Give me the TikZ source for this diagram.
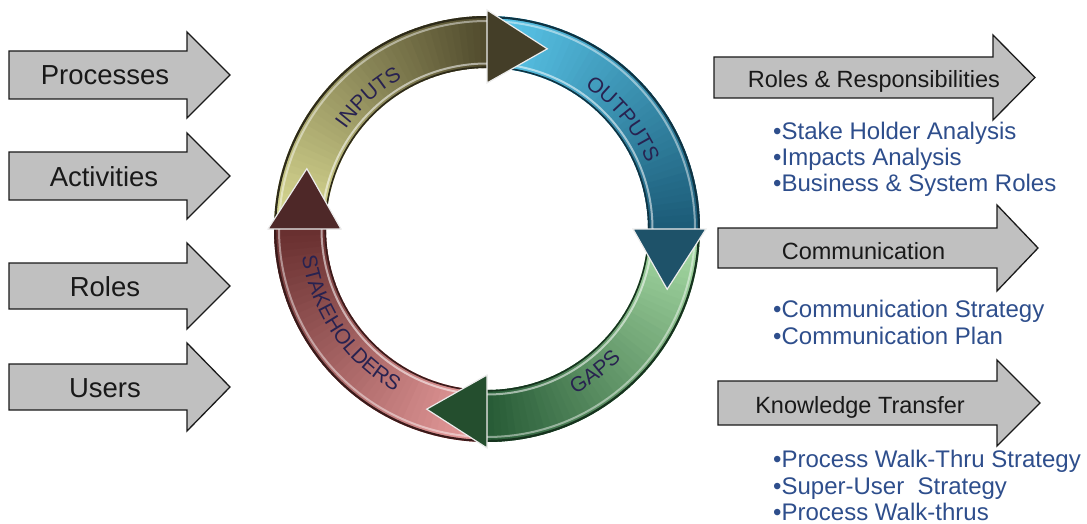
\documentclass[tikz,border=0pt]{standalone}
\usepackage{fontspec}
\setmainfont{Liberation Sans}
\usetikzlibrary{decorations.text}

\definecolor{arrowgray}{RGB}{192,192,192}
\definecolor{arrowline}{RGB}{26,26,26}
\definecolor{bulletblue}{RGB}{46,78,140}
\definecolor{arctext}{RGB}{40,34,80}
\definecolor{inlight}{RGB}{220,220,148}
\definecolor{indark}{RGB}{82,76,46}
\definecolor{inhead}{RGB}{68,62,40}
\definecolor{outlight}{RGB}{92,202,238}
\definecolor{outdark}{RGB}{28,92,120}
\definecolor{outhead}{RGB}{30,82,105}
\definecolor{gaplight}{RGB}{170,222,167}
\definecolor{gapdark}{RGB}{40,92,55}
\definecolor{gaphead}{RGB}{36,78,46}
\definecolor{stklight}{RGB}{234,158,158}
\definecolor{stkdark}{RGB}{105,48,48}
\definecolor{stkhead}{RGB}{78,40,40}

\def\Rin{161}
\def\Rout{213}

% body of a curved arrow: annular band shaded from light (start) to dark (head)
\newcommand{\ringbody}[4]{%
  \foreach \i in {0,...,44}{
    \pgfmathsetmacro{\angA}{#1+(#2-#1)*\i/45}
    \pgfmathsetmacro{\angB}{#1+(#2-#1)*(\i+1.4)/45}
    \pgfmathtruncatemacro{\pmix}{100-\i*100/44}
    \fill[#3!\pmix!#4] (\angA:\Rin) arc[start angle=\angA, end angle=\angB, radius=\Rin]
      -- (\angB:\Rout) arc[start angle=\angB, end angle=\angA, radius=\Rout] -- cycle;
  }
}
% bevelled rims of a band
\newcommand{\ringedges}[3]{%
  \draw[line width=2.2, draw=#3!55!black] (#1:{\Rout-1.1}) arc[start angle=#1, end angle=#2, radius={\Rout-1.1}];
  \draw[line width=2, white, opacity=0.45] (#1:{\Rout-5}) arc[start angle=#1, end angle=#2, radius={\Rout-5}];
  \draw[line width=1.6, draw=#3!55!black] (#1:{\Rin+0.8}) arc[start angle=#1, end angle=#2, radius={\Rin+0.8}];
  \draw[line width=2, white, opacity=0.55] (#1:{\Rin+4.5}) arc[start angle=#1, end angle=#2, radius={\Rin+4.5}];
}
% arrow head, base at angle #1, pointing clockwise
\newcommand{\ringhead}[2]{%
  \filldraw[fill=#2, draw=white!85!gray, line width=1.2, line join=miter]
    (#1:146) -- (#1:219) -- ({#1-18.5}:190) -- cycle;
}
% straight block arrow: tail x, head-base x, tip x, centre y, body half, head half
\newcommand{\blockarrow}[6]{%
  \draw[blockshape] (#1,{-#4+#5}) -- (#2,{-#4+#5}) -- (#2,{-#4+#6}) -- (#3,-#4)
    -- (#2,{-#4-#6}) -- (#2,{-#4-#5}) -- (#1,{-#4-#5}) -- cycle;
}
\newcommand{\arcfont}{\fontsize{21}{21}\selectfont\color{arctext}}

\tikzset{
  blockshape/.style={fill=arrowgray, draw=arrowline, line width=1.3, line join=miter},
  leftlabel/.style={font=\fontsize{27.5}{27.5}\selectfont, text=black!90, inner sep=0, anchor=base},
  rightlabel/.style={font=\fontsize{23.5}{23.5}\selectfont, text=black!90, inner sep=0, anchor=base},
  bullet/.style={font=\fontsize{24}{24}\selectfont, text=bulletblue, inner sep=0, anchor=base west},
}

\begin{document}
\begin{tikzpicture}[x=1pt,y=1pt]
\useasboundingbox (0,0) rectangle (1087,-524);

% left-hand inputs
\blockarrow{9}{187}{230}{75}{24}{43}
\blockarrow{9}{187}{230}{176}{24}{43}
\blockarrow{9}{187}{230}{286}{23}{43}
\blockarrow{9}{187}{230}{387}{23}{44}
\node[leftlabel] (processes) at (105,-85) {Processes};
\node[leftlabel] (activities) at (104,-186) {Activities};
\node[leftlabel] (roles) at (105,-296) {Roles};
\node[leftlabel] (users) at (105,-397) {Users};

% right-hand outcomes
\blockarrow{714}{993}{1035}{77.5}{20.5}{42.5}
\blockarrow{718}{997}{1038}{248}{20}{43}
\blockarrow{718}{997}{1040}{403}{22}{43}
\node[rightlabel] (rr) at (874,-87.5) {Roles \& Responsibilities};
\node[rightlabel] (comm) at (863.5,-259) {Communication};
\node[rightlabel] (kt) at (860,-413) {Knowledge Transfer};

\node[bullet] (rr1) at (773,-140) {•Stake Holder Analysis};
\node[bullet] (rr2) at (773,-165.5) {•Impacts Analysis};
\node[bullet] (rr3) at (773,-191) {•Business \& System Roles};
\node[bullet] (cm1) at (773,-317) {•Communication Strategy};
\node[bullet] (cm2) at (773,-344) {•Communication Plan};
\node[bullet] (kt1) at (773,-467) {•Process Walk-Thru Strategy};
\node[bullet] (kt2) at (773,-494) {•Super-User\ \ Strategy};
\node[bullet] (kt3) at (773,-520) {•Process Walk-thrus};

% central cycle
\begin{scope}[shift={(487,-229)}]
  \ringbody{180}{90}{inlight}{indark}
  \ringbody{90}{0}{outlight}{outdark}
  \ringbody{0}{-90}{gaplight}{gapdark}
  \ringbody{-90}{-180}{stklight}{stkdark}
  \ringedges{180}{90}{indark}
  \ringedges{90}{0}{outdark}
  \ringedges{0}{-90}{gapdark}
  \ringedges{-90}{-180}{stkdark}
  \ringhead{90}{inhead}
  \ringhead{0}{outhead}
  \ringhead{-90}{gaphead}
  \ringhead{-180}{stkhead}

  \path[decorate, decoration={text along path, text={|\arcfont|INPUTS}, text align=center}]
    (162:173) arc[start angle=162, end angle=102, radius=173];
  \path[decorate, decoration={text along path, text={|\arcfont|OUTPUTS}, text align=center}]
    (69:173) arc[start angle=69, end angle=9, radius=173];
  \path[decorate, decoration={text along path, text={|\arcfont|GAPS}, text align=center}]
    (-83:187) arc[start angle=-83, end angle=-23, radius=187];
  \path[decorate, decoration={text along path, text={|\arcfont|STAKEHOLDERS}, text align=center}]
    (184:187) arc[start angle=184, end angle=245, radius=187];
\end{scope}
\end{tikzpicture}
\end{document}
